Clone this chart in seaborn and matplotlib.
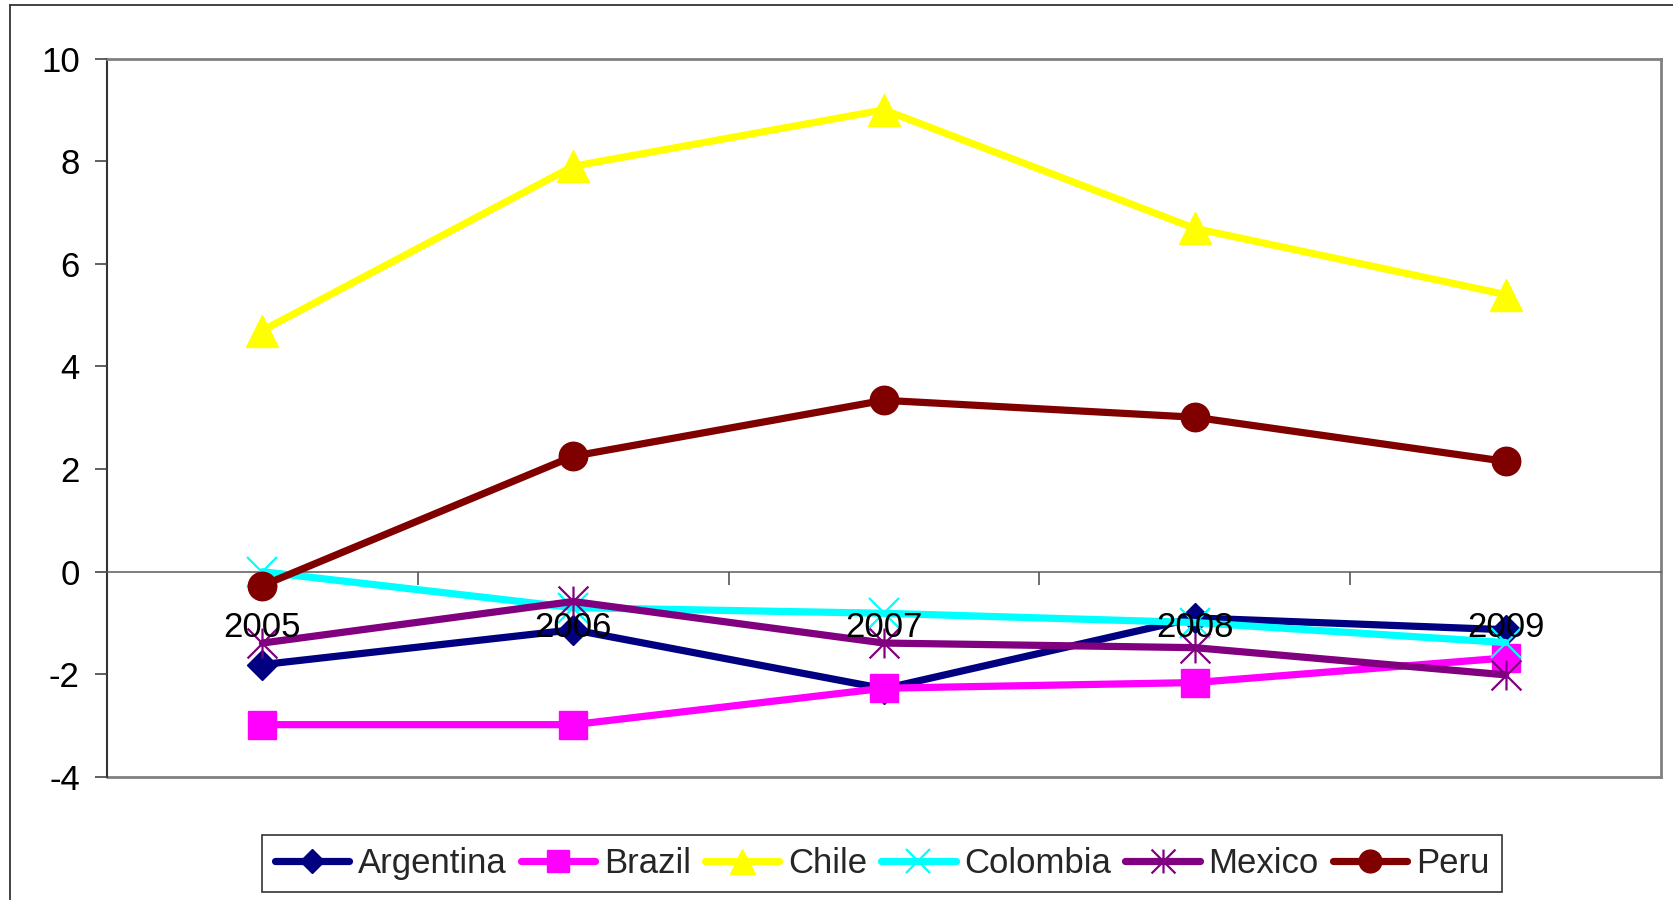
import numpy as np
import pandas as pd
import matplotlib
matplotlib.use("Agg")
import matplotlib.pyplot as plt
from matplotlib.path import Path
from matplotlib.lines import Line2D
import seaborn as sns

# Yearly values per country
years = ["2005", "2006", "2007", "2008", "2009"]
argentina = [-1.81, -1.13, -2.28, -0.90, -1.13]
brazil = [-2.98, -2.98, -2.27, -2.16, -1.68]
chile = [4.70, 7.90, 9.00, 6.69, 5.40]
colombia = [0.00, -0.70, -0.81, -0.99, -1.38]
mexico = [-1.39, -0.58, -1.39, -1.48, -2.01]
peru = [-0.27, 2.25, 3.34, 3.01, 2.15]

countries = ["Argentina", "Brazil", "Chile", "Colombia", "Mexico", "Peru"]
series = [argentina, brazil, chile, colombia, mexico, peru]
colors = ["#000080", "#FF00FF", "#FFFF00", "#00FFFF", "#800080", "#800000"]

sns.set_theme(style="white")
plt.rcParams["font.family"] = ["Liberation Sans", "DejaVu Sans"]
plt.rcParams["axes.unicode_minus"] = False

# asterisk marker: an X with a vertical stroke through it
asterisk = Path([(-1, -1), (1, 1), (-1, 1), (1, -1), (0, -1), (0, 1)],
                [Path.MOVETO, Path.LINETO] * 3)

markers = ["D", "s", "^", "x", asterisk, "o"]
msizes = [15.5, 20.5, 22.5, 21.5, 21.5, 20.5]
mews = [1.0, 1.0, 1.0, 1.6, 1.6, 1.0]

FS = 25

W, H = 1673, 900
fig = plt.figure(figsize=(W / 100, H / 100), dpi=100)
ax = fig.add_axes([107 / W, 1 - 777 / H, (1661 - 107) / W, (777 - 58.5) / H])

for name, vals, col, mk, ms, mew in zip(countries, series, colors, markers, msizes, mews):
    df = pd.DataFrame({"pos": np.arange(len(years)), "value": vals})
    sns.lineplot(data=df, x="pos", y="value", ax=ax, color=col, lw=5.2,
                 marker=mk, markersize=ms, markeredgecolor=col,
                 markerfacecolor=col, markeredgewidth=mew, label=name,
                 legend=False)

ax.set_xlim(-0.5, len(years) - 0.5)
ax.set_ylim(-4, 10)
ax.set_yticks(range(-4, 11, 2))
ax.set_xlabel("")
ax.set_ylabel("")

# category boundaries carry the tick marks, category centres carry the labels
ax.set_xticks(np.arange(len(years) - 1) + 0.5)
ax.set_xticklabels([])
ax.set_xticks(np.arange(len(years)), minor=True)
ax.set_xticklabels(years, minor=True)
ax.tick_params(axis="x", which="major", direction="out", length=9.4, width=1.2,
               color="#555555", bottom=True)
ax.tick_params(axis="x", which="minor", length=0, pad=28, labelsize=FS,
               labelcolor="black", bottom=True)
ax.tick_params(axis="y", direction="out", length=8.6, width=1.2, color="#444444",
               pad=11, labelsize=FS, labelcolor="black", left=True)

ax.set_axisbelow(False)
for sp in ax.spines.values():
    sp.set_visible(True)
    sp.set_zorder(1.5)
ax.spines["bottom"].set_position(("data", 0))
ax.spines["bottom"].set_color("#5a5a5a")
ax.spines["bottom"].set_linewidth(1.1)
ax.spines["left"].set_color("#333333")
ax.spines["left"].set_linewidth(1.5)
for side in ("top", "right"):
    ax.spines[side].set_color("#808080")
    ax.spines[side].set_linewidth(2)
ax.axhline(-4, color="#808080", lw=2, clip_on=False, zorder=1.5)

# outer chart-area border
fig.add_artist(Line2D([10 / W, 10 / W], [0, 1 - 5 / H], transform=fig.transFigure,
                      color="#333333", lw=1.3))
fig.add_artist(Line2D([10 / W, 1], [1 - 5 / H, 1 - 5 / H], transform=fig.transFigure,
                      color="#333333", lw=1.3))

handles, labels = ax.get_legend_handles_labels()
leg = fig.legend(handles, labels, loc="center", bbox_to_anchor=(882 / W, 1 - 863.5 / H),
                 ncol=6, frameon=True, fancybox=False, edgecolor="black",
                 fontsize=FS, handlelength=2.15, handletextpad=0.25,
                 columnspacing=0.4, borderpad=0.35, borderaxespad=0,
                 markerscale=0.8)
leg.get_frame().set_linewidth(1.2)

fig.savefig("out.png", dpi=100, facecolor="white")
